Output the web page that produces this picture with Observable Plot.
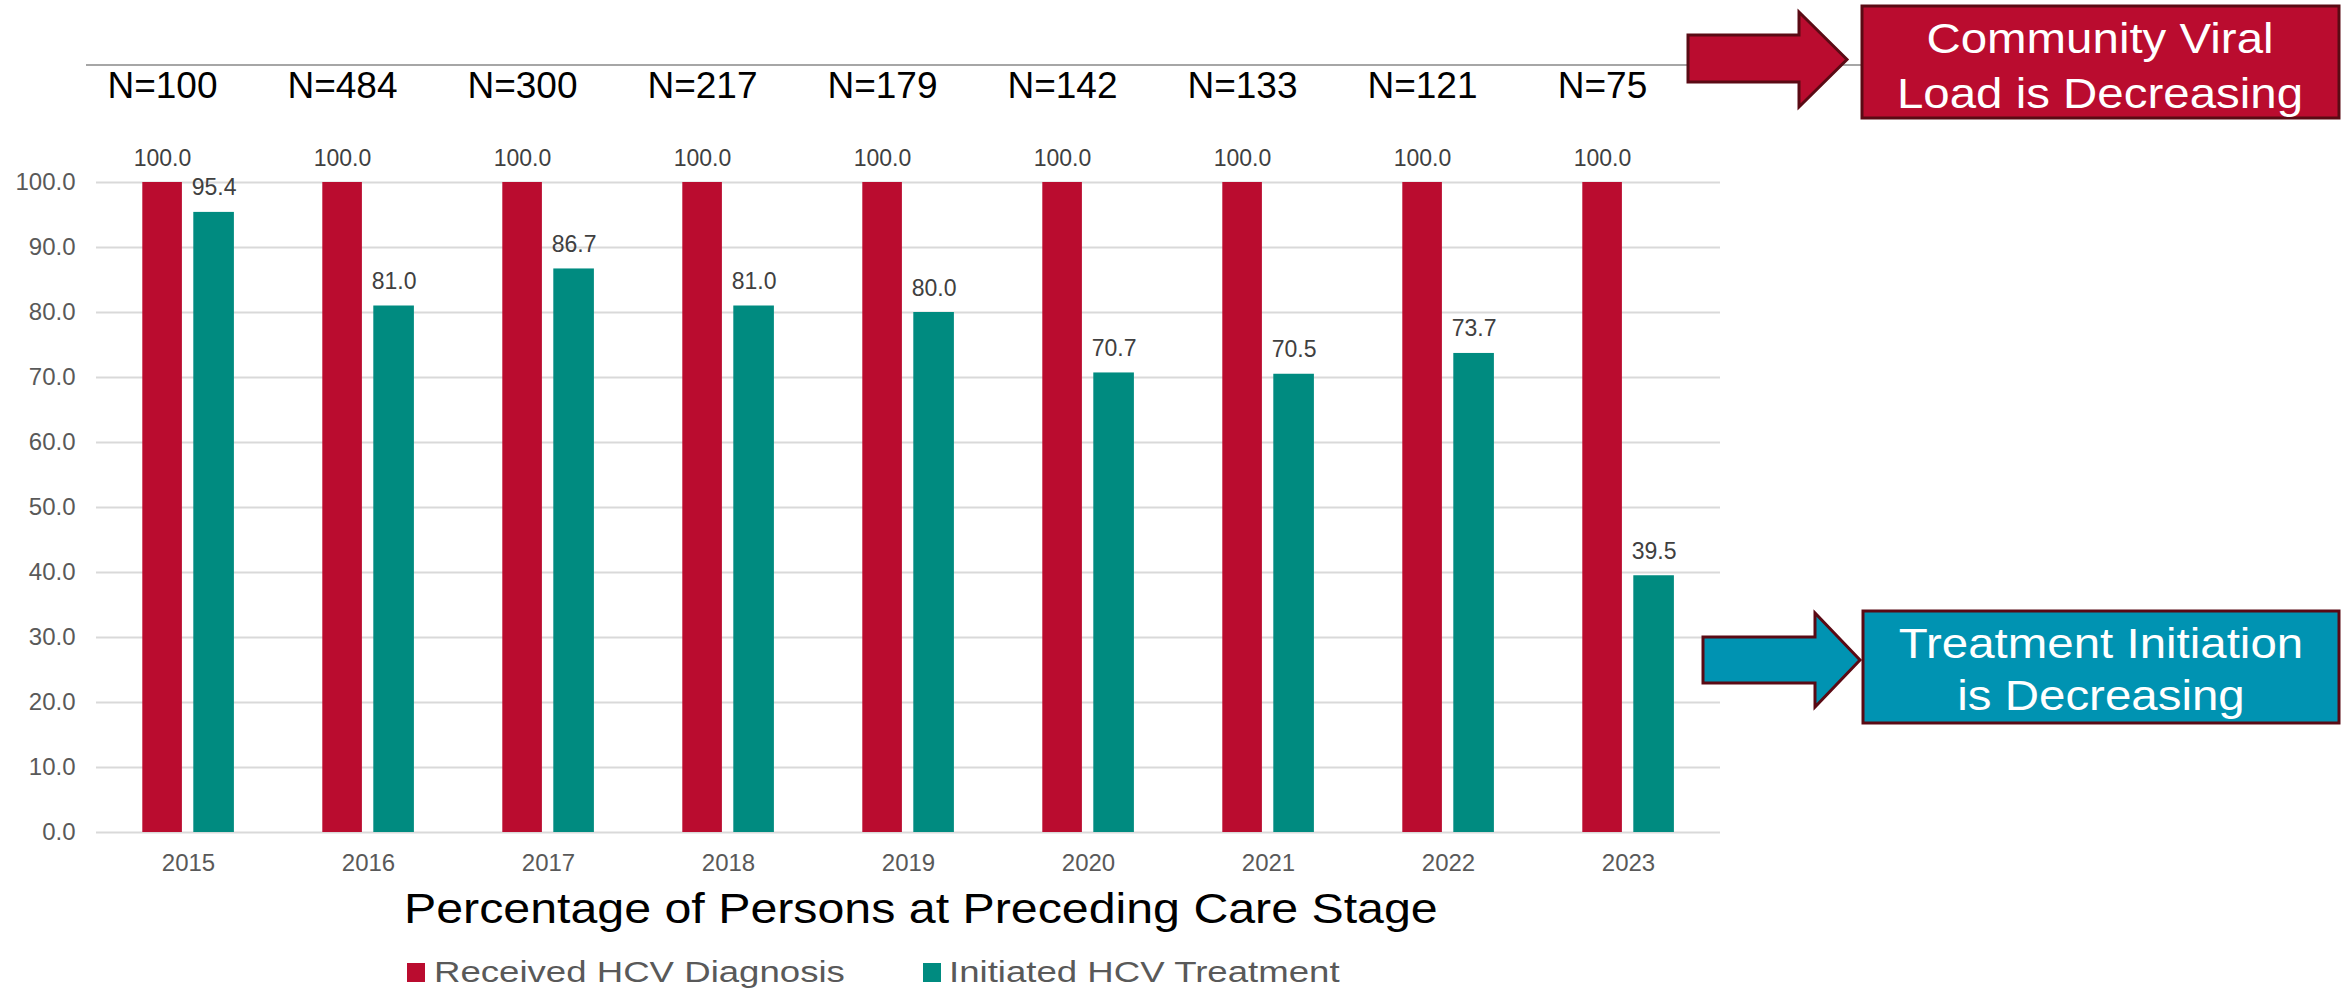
<!DOCTYPE html>
<html>
<head>
<meta charset="utf-8">
<script src="https://cdn.jsdelivr.net/npm/d3@7"></script>
<script src="https://cdn.jsdelivr.net/npm/@observablehq/plot@0.6"></script>
<style>
  html, body { margin: 0; padding: 0; background: #fff; }
  body { font-family: "Liberation Sans", Arial, sans-serif; }
  #page { position: relative; width: 2344px; height: 992px; overflow: hidden; }
  #chart { position: absolute; left: 0; top: 0; }
  #notes { position: absolute; left: 0; top: 0; pointer-events: none; }
  .title {
    position: absolute; left: 404px; top: 887.5px;
    font-size: 42px; line-height: 42px; color: #000; white-space: nowrap;
    transform: scaleX(1.15); transform-origin: 0 0;
  }
  .swatch { position: absolute; width: 18px; height: 19px; top: 963px; }
  .key {
    position: absolute; top: 956.6px; font-size: 30px; line-height: 30px;
    color: #595959; white-space: nowrap;
    transform: scaleX(1.22); transform-origin: 0 0;
  }
</style>
</head>
<body>
<div id="page">
  <div id="chart"></div>
  <div class="title">Percentage of Persons at Preceding Care Stage</div>
  <div id="legend"></div>
  <svg id="notes" width="2344" height="992" xmlns="http://www.w3.org/2000/svg">
    <line x1="86" y1="65" x2="1862" y2="65" stroke="#a6a6a6" stroke-width="2"/>
    <polygon points="1688,35 1799,35 1799,12 1847,59.5 1799,107 1799,82 1688,82"
             fill="#ba0c2f" stroke="#5a0a14" stroke-width="3" stroke-linejoin="miter"/>
    <rect x="1862" y="6" width="477" height="112" fill="#ba0c2f" stroke="#5a0a14" stroke-width="3"/>
    <g transform="translate(2100,0) scale(1.13,1)" fill="#fff" font-size="42" text-anchor="middle"
       font-family="Liberation Sans, Arial, sans-serif">
      <text x="0" y="53">Community Viral</text>
      <text x="0" y="108">Load is Decreasing</text>
    </g>
    <polygon points="1703,637 1815,637 1815,613 1860,660 1815,707 1815,683 1703,683"
             fill="#0093b2" stroke="#5a0a14" stroke-width="3" stroke-linejoin="miter"/>
    <rect x="1863" y="611" width="476" height="112" fill="#0093b2" stroke="#5a0a14" stroke-width="3"/>
    <g transform="translate(2101,0) scale(1.13,1)" fill="#fff" font-size="42" text-anchor="middle"
       font-family="Liberation Sans, Arial, sans-serif">
      <text x="0" y="658">Treatment Initiation</text>
      <text x="0" y="710">is Decreasing</text>
    </g>
  </svg>
</div>
<script>
// Yearly HCV care cascade
const years = ["2015", "2016", "2017", "2018", "2019", "2020", "2021", "2022", "2023"];
const diagnosed = [100.0, 100.0, 100.0, 100.0, 100.0, 100.0, 100.0, 100.0, 100.0];
const treated = [95.4, 81.0, 86.7, 81.0, 80.0, 70.7, 70.5, 73.7, 39.5];
const cohortN = [100, 484, 300, 217, 179, 142, 133, 121, 75];
const yTicks = [0, 10, 20, 30, 40, 50, 60, 70, 80, 90, 100];
const seriesNames = ["Received HCV Diagnosis", "Initiated HCV Treatment"];
const seriesColors = ["#ba0c2f", "#008b80"];

const rows = years.map((year, i) => ({
  year,
  diagnosed: diagnosed[i],
  treated: treated[i],
  n: cohortN[i]
}));

const valueLabel = {lineAnchor: "bottom", dy: -17, fontSize: 23, fill: "#404040"};

const chart = Plot.plot({
  width: 2344,
  height: 890,
  marginLeft: 96,
  marginRight: 624,
  marginTop: 182,
  marginBottom: 58,
  style: {fontFamily: "Liberation Sans, Arial, sans-serif", background: "transparent", overflow: "visible"},
  x: {domain: years, padding: 0, axis: null, label: null},
  y: {domain: [0, 100], axis: null, label: null},
  marks: [
    Plot.gridY(yTicks, {stroke: "#d9d9d9", strokeOpacity: 1, strokeWidth: 2}),
    Plot.axisY(yTicks, {tickSize: 0, tickPadding: 21, tickFormat: d => d.toFixed(1), fontSize: 24, color: "#595959", label: null}),
    Plot.axisX({tickSize: 0, tickPadding: 21, fontSize: 24, color: "#595959", label: null}),
    Plot.barY(rows, {x: "year", y: "diagnosed", fill: seriesColors[0], insetLeft: 44.3, insetRight: 96.1}),
    Plot.barY(rows, {x: "year", y: "treated", fill: seriesColors[1], insetLeft: 95.3, insetRight: 44.1}),
    Plot.text(rows, {x: "year", y: "diagnosed", text: d => d.diagnosed.toFixed(1), dx: -26, ...valueLabel}),
    Plot.text(rows, {x: "year", y: "treated", text: d => d.treated.toFixed(1), dx: 25.6, ...valueLabel}),
    Plot.text(rows, {
      x: "year", text: d => `N=${d.n}`, frameAnchor: "top",
      lineAnchor: "bottom", dx: -26, dy: -85, fontSize: 37, fill: "#000"
    })
  ]
});
document.getElementById("chart").appendChild(chart);

// Legend below the chart
const legend = document.getElementById("legend");
const legendSpots = [{swatch: 407, text: 434}, {swatch: 923, text: 949}];
seriesNames.forEach((name, i) => {
  const sw = document.createElement("div");
  sw.className = "swatch";
  sw.style.left = legendSpots[i].swatch + "px";
  sw.style.background = seriesColors[i];
  legend.appendChild(sw);
  const label = document.createElement("div");
  label.className = "key";
  label.style.left = legendSpots[i].text + "px";
  label.textContent = name;
  legend.appendChild(label);
});
</script>
</body>
</html>
